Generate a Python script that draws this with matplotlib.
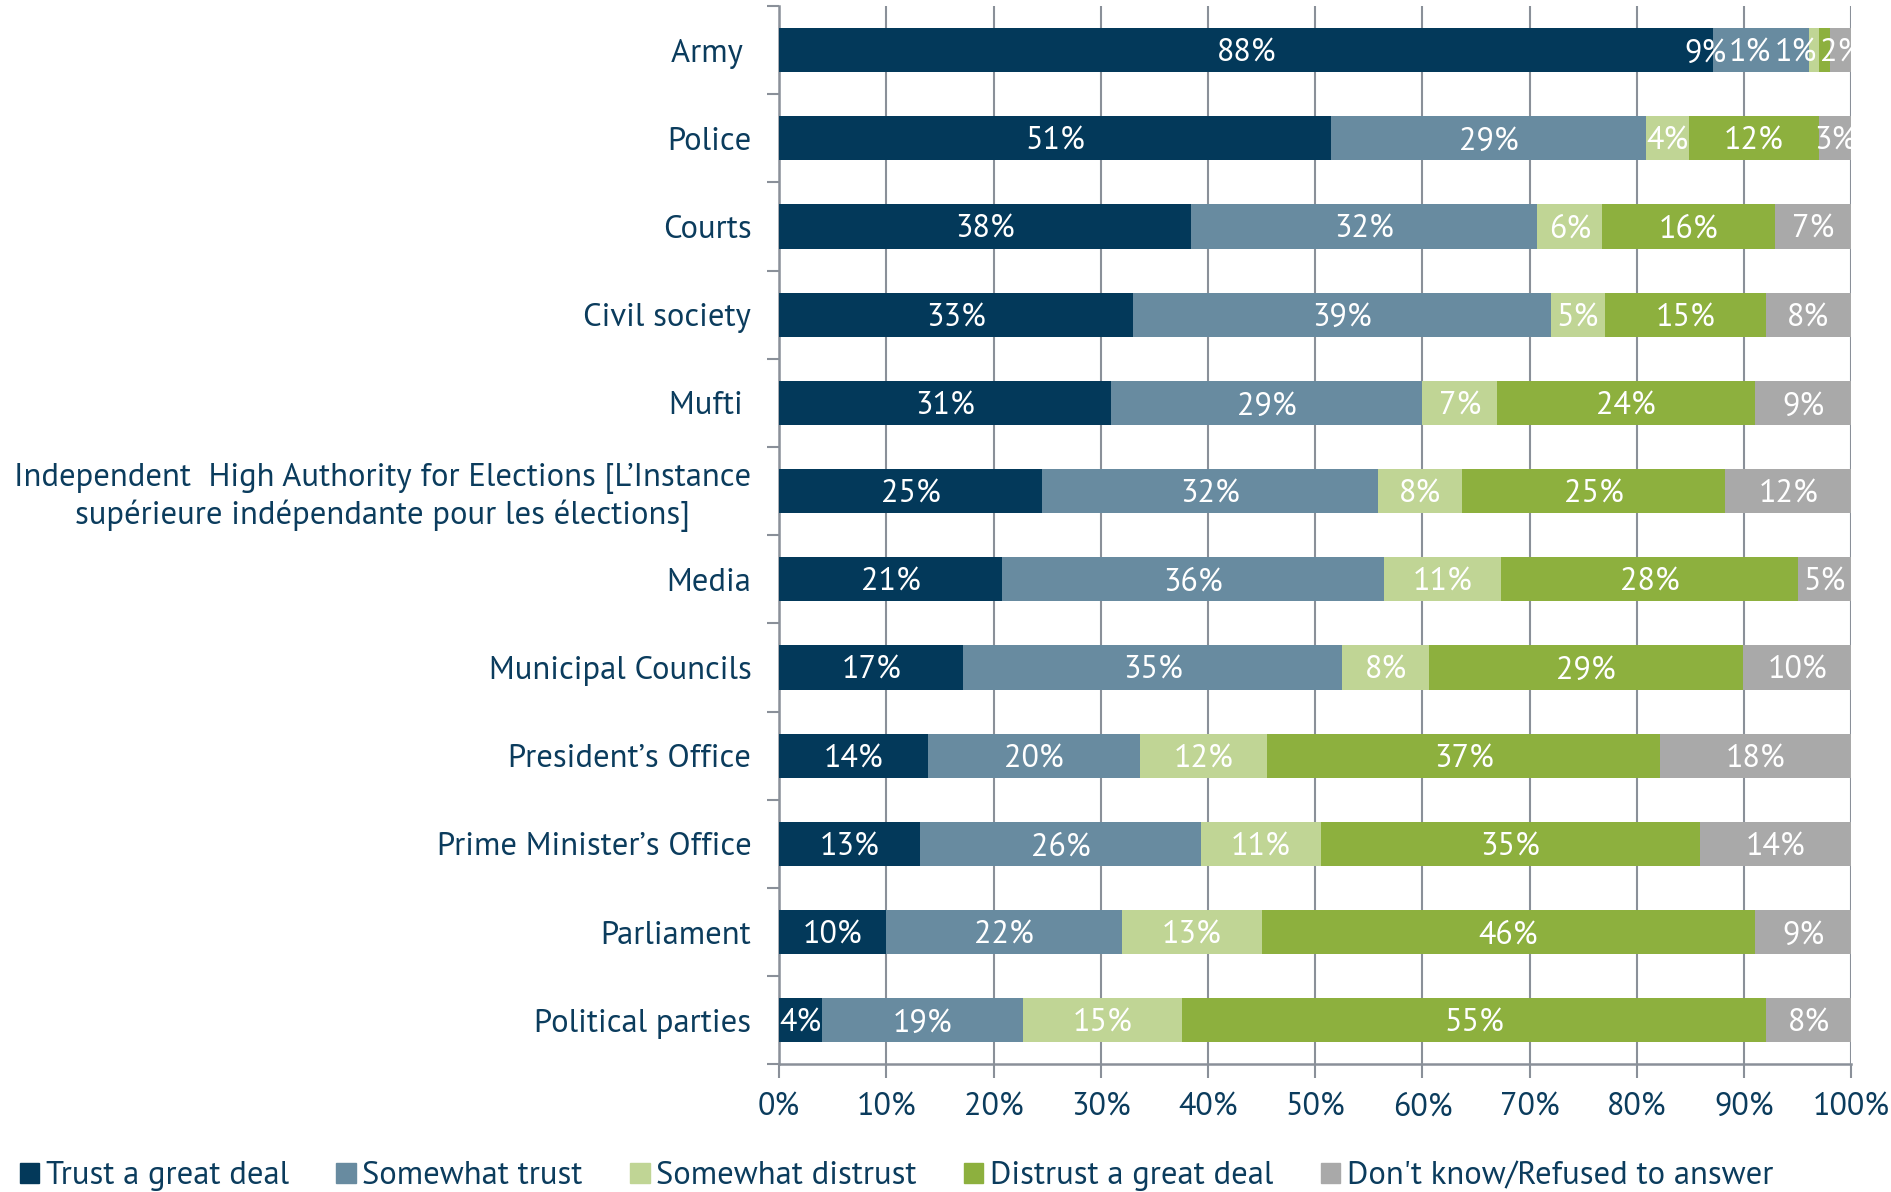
import matplotlib
matplotlib.use("Agg")
import matplotlib.pyplot as plt
from matplotlib.patches import Patch
import numpy as np

categories = ["Army ", "Police", "Courts", "Civil society", "Mufti ",
              "Independent  High Authority for Elections [L\u2019Instance\nsup\u00e9rieure ind\u00e9pendante pour les \u00e9lections]",
              "Media", "Municipal Councils", "President\u2019s Office", "Prime Minister\u2019s Office",
              "Parliament", "Political parties"]
series = ["Trust a great deal", "Somewhat trust", "Somewhat distrust",
          "Distrust a great deal", "Don't know/Refused to answer"]
trust_great = [88, 51, 38, 33, 31, 25, 21, 17, 14, 13, 10, 4]
somewhat_trust = [9, 29, 32, 39, 29, 32, 36, 35, 20, 26, 22, 19]
somewhat_distrust = [1, 4, 6, 5, 7, 8, 11, 8, 12, 11, 13, 15]
distrust_great = [1, 12, 16, 15, 24, 25, 28, 29, 37, 35, 46, 55]
dont_know = [2, 3, 7, 8, 9, 12, 5, 10, 18, 14, 9, 8]
xticklabels = ["0%", "10%", "20%", "30%", "40%", "50%", "60%", "70%", "80%", "90%", "100%"]

colors = ["#03395A", "#688BA0", "#C0D595", "#8DB03E", "#A9A9A9"]
txt = "#0B3C5D"
grid = "#8A9099"

plt.rcParams['font.family'] = ['PT Sans', 'DejaVu Sans']

fig = plt.figure(figsize=(18.91, 11.92), dpi=100)
ax = fig.add_axes([0.412, 0.107, 0.567, 0.888])

data = np.array([trust_great, somewhat_trust, somewhat_distrust, distrust_great, dont_know], dtype=float)
totals = data.sum(axis=0)
frac = data / totals
y = np.arange(len(categories))
left = np.zeros(len(categories))
labels = [[None] * len(series) for _ in categories]
for i in range(len(series)):
    ax.barh(y, frac[i], left=left, height=0.5, color=colors[i], zorder=3)
    for j in range(len(categories)):
        labels[j][i] = ax.text(left[j] + frac[i][j] / 2, y[j], f"{int(data[i][j])}%", color="white",
                               ha="center", va="center_baseline", fontsize=23, zorder=4, clip_on=True)
    left += frac[i]

ax.set_xlim(0, 1)
ax.set_ylim(len(categories) - 0.5, -0.5)
ax.set_xticks(np.arange(0, 1.01, 0.1))
ax.set_xticklabels(xticklabels, fontsize=23, color=txt)
ax.set_yticks(y)
ax.set_yticklabels(categories, fontsize=23.5, color=txt, ha="right", multialignment="center")
ax.tick_params(axis="y", length=0, pad=20)
ax.set_yticks(np.arange(-0.5, len(categories) + 0.5, 1), minor=True)
ax.tick_params(axis="y", which="minor", length=9, width=1.5, color=grid, direction="out")
ax.tick_params(axis="x", length=10, width=1.5, color=grid, pad=10)
ax.grid(axis="x", color=grid, linewidth=1.5, zorder=0)
for s in ["top", "right"]:
    ax.spines[s].set_visible(False)
for s in ["left", "bottom"]:
    ax.spines[s].set_color(grid)
    ax.spines[s].set_linewidth(1.8)

# push overlapping data labels leftwards
fig.canvas.draw()
r = fig.canvas.get_renderer()
inv = ax.transData.inverted()
gap = 3
for row in labels:
    limit = None
    for t in reversed(row):
        bb = t.get_window_extent(r)
        if limit is not None and bb.x1 > limit - gap:
            shift = bb.x1 - (limit - gap)
            cx = (bb.x0 + bb.x1) / 2 - shift
            t.set_x(inv.transform((cx, 0))[0])
            bb = t.get_window_extent(r)
        limit = bb.x0

handles = [Patch(color=c) for c in colors]
leg = fig.legend(handles, series, loc="lower left", bbox_to_anchor=(0.0, -0.016), ncol=5,
                 frameon=False, fontsize=23.5, handlelength=0.6, handleheight=0.6,
                 handletextpad=0.2, columnspacing=1.45, borderaxespad=0.2)
for t in leg.get_texts():
    t.set_color(txt)

fig.savefig("out.png", dpi=100)
